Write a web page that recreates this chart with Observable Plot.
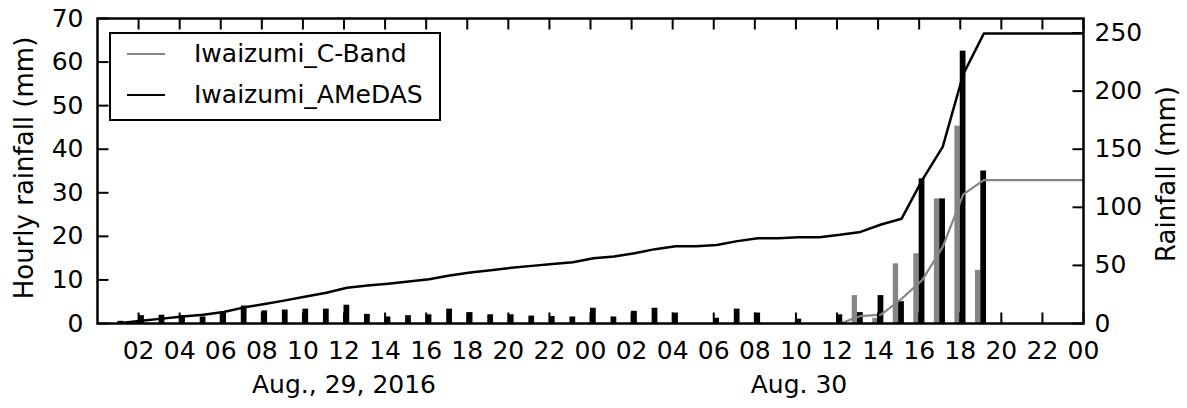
<!DOCTYPE html>
<html>
<head>
<meta charset="utf-8">
<script src="https://cdn.jsdelivr.net/npm/d3@7"></script>
<script src="https://cdn.jsdelivr.net/npm/@observablehq/plot@0.6"></script>
<style>
  body { margin: 0; background: #fff; font-family: "DejaVu Sans", sans-serif; }
  #wrap { position: relative; width: 1187px; height: 408px; }
  .legend { position: absolute; left: 109px; top: 32px; width: 328px; height: 85px;
            border: 2px solid #000; background: #fff; }
  .legend .sw { position: absolute; left: 16px; width: 38px; height: 0; }
  .legend .lbl { position: absolute; left: 83px; font-size: 25px; line-height: 30px; color: #000; white-space: nowrap; }
</style>
</head>
<body>
<div id="wrap"></div>
<script>
// ---- data ----
const seriesNames = ["Iwaizumi_C-Band", "Iwaizumi_AMeDAS"];
const seriesColors = ["#858585", "#000000"];

// hours since Aug 29 00:00 (value = rain in that hour)
const hours = [1,2,3,4,5,6,7,8,9,10,11,12,13,14,15,16,17,18,19,20,21,22,23,24,
               25,26,27,28,29,30,31,32,33,34,35,36,37,38,39,40,41,42,43,44,45,46,47,48];

// hourly rainfall (mm), AMeDAS gauge
const amedas = [0.5,1.8,1.9,1.8,1.5,2.4,4.0,2.9,3.1,3.3,3.3,4.2,2.1,1.5,1.8,2.0,3.3,2.5,2.0,2.0,1.7,1.6,1.5,3.5,
                1.5,2.8,3.5,2.4,0,1.2,3.3,2.4,0,1.0,0,2.0,2.5,6.4,5.0,33.2,28.6,62.5,35.0,0,0,0,0,0];
// hourly rainfall (mm), C-Band radar
const cband  = [0,0,0,0,0,0,0,0,0,0,0,0,0,0,0,0,0,0,0,0,0,0,0,0,
                0,0,0,0,0,0,0,0,0,0,0,0,6.4,1.2,13.7,16.0,28.6,45.3,12.2,0,0,0,0,0];
const cbandStartHour = 36;

const xTickHours  = [2,4,6,8,10,12,14,16,18,20,22,24,26,28,30,32,34,36,38,40,42,44,46,48];
const xTickLabels = ["02","04","06","08","10","12","14","16","18","20","22","00",
                     "02","04","06","08","10","12","14","16","18","20","22","00"];
const leftTicks  = [0,10,20,30,40,50,60,70];
const rightTicks = [0,50,100,150,200,250];
const dateLabels = ["Aug., 29, 2016", "Aug. 30"];
const dateHours  = [12, 34.15];

const xMin = 0, xMax = 48;
const leftMax = 70, rightMax = 262.5;
const k = leftMax / rightMax;

// ---- table ----
let sa = 0, sc = 0;
const rows = hours.map((h, i) => {
  sa += amedas[i]; sc += cband[i];
  return {h, a: amedas[i], c: cband[i], ca: sa, cc: sc};
});
const cRows = rows.filter(r => r.h >= cbandStartHour).map(r => r);
cRows[0] = {...cRows[0], cc: 0};

const FS = 25;
const W = 1187, H = 408, mL = 97, mR = 104, mT = 18, mB = 85;
const fw = W - mL - mR, fh = H - mT - mB, TL = 11;
const tx = TL * (xMax - xMin) / fw, ty = TL * leftMax / fh;
const tickStyle = {stroke: "#000", strokeWidth: 2};

// inward tick marks (all four sides), built from the tick arrays
const topTicks = xTickHours.map(h => ({x1: h, x2: h, y1: leftMax - ty, y2: leftMax}));
const botTicks = xTickHours.map(h => ({x1: h, x2: h, y1: 0, y2: ty}));
const lTicks = leftTicks.map(v => ({x1: xMin, x2: xMin + tx, y1: v, y2: v}));
const rTicks = rightTicks.map(v => ({x1: xMax - tx, x2: xMax, y1: v * k, y2: v * k}));
const allTicks = [...topTicks, ...botTicks, ...lTicks, ...rTicks];

const chart = Plot.plot({
  width: W, height: H,
  marginLeft: mL, marginRight: mR, marginTop: mT, marginBottom: mB,
  x: {domain: [xMin, xMax]},
  y: {domain: [0, leftMax]},
  style: {fontFamily: "DejaVu Sans", fontSize: FS + "px", color: "#000", background: "#fff"},
  marks: [
    Plot.rect(rows, {x1: d => d.h - 0.26, x2: "h", y1: 0, y2: "c", fill: seriesColors[0]}),
    Plot.rect(rows, {x1: "h", x2: d => d.h + 0.28, y1: 0, y2: "a", fill: seriesColors[1]}),
    Plot.line(cRows, {x: "h", y: d => d.cc * k, stroke: seriesColors[0], strokeWidth: 2.2, dx: 3, clip: true}),
    Plot.line(rows, {x: "h", y: d => d.ca * k, stroke: seriesColors[1], strokeWidth: 2.5, dx: 3, clip: true}),
    Plot.link(allTicks, {x1: "x1", x2: "x2", y1: "y1", y2: "y2", ...tickStyle}),
    Plot.axisX({anchor: "bottom", ticks: xTickHours, tickFormat: d => xTickLabels[xTickHours.indexOf(d)],
                tickSize: 0, tickPadding: 18, label: null, fontSize: FS, fill: "#000"}),
    Plot.axisY({anchor: "left", ticks: leftTicks, tickSize: 0, tickPadding: 14,
                label: null, fontSize: FS, fill: "#000"}),
    Plot.axisY({anchor: "right", ticks: rightTicks.map(v => v * k), tickFormat: d => String(Math.round(d / k)),
                tickSize: 0, tickPadding: 11, label: null, fontSize: FS, fill: "#000"}),
    Plot.frame({stroke: "#000", strokeWidth: 2.5}),
    Plot.text(["Hourly rainfall (mm)"], {frameAnchor: "left", textAnchor: "middle", rotate: -90, dx: -73, dy: -3,
                fontSize: 26, lineAnchor: "middle", fill: "#000"}),
    Plot.text(["Rainfall (mm)"], {frameAnchor: "right", textAnchor: "middle", rotate: -90, dx: 83, dy: 3,
                fontSize: 26, lineAnchor: "middle", fill: "#000"}),
    Plot.text(dateLabels, {x: dateHours, text: d => d, frameAnchor: "bottom", dy: 61, fontSize: FS, lineAnchor: "middle", fill: "#000"})
  ]
});
const wrap = document.getElementById("wrap");
wrap.appendChild(chart);

// legend
const leg = document.createElement("div");
leg.className = "legend";
const rowCenters = [20, 61];
seriesNames.forEach((name, i) => {
  const sw = document.createElement("div");
  sw.className = "sw";
  sw.style.top = (rowCenters[i] - 1) + "px";
  sw.style.borderTop = (i === 0 ? 2.2 : 2.5) + "px solid " + seriesColors[i];
  leg.appendChild(sw);
  const lb = document.createElement("div");
  lb.className = "lbl";
  lb.style.top = (rowCenters[i] - 15) + "px";
  lb.textContent = name;
  leg.appendChild(lb);
});
wrap.appendChild(leg);
</script>
</body>
</html>
